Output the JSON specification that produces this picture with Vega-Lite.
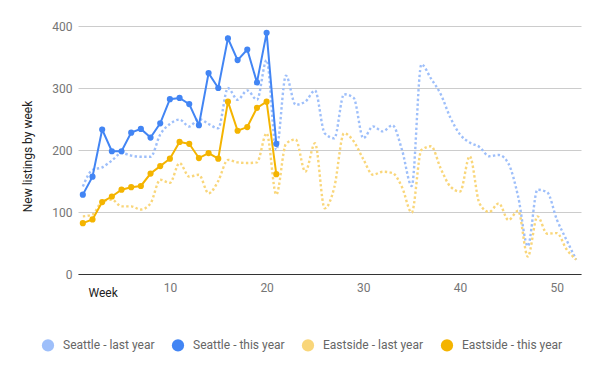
{
  "$schema": "https://vega.github.io/schema/vega-lite/v6.json",
  "autosize": "none",
  "width": 503,
  "height": 248,
  "padding": {"left": 78, "top": 26, "right": 19, "bottom": 97},
  "config": {
    "font": "Roboto",
    "view": {"stroke": null},
    "axis": {"labelFont": "Roboto", "titleFont": "Roboto", "labelFontSize": 12, "titleFontSize": 12, "labelColor": "#757575", "titleColor": "#222222", "titleFontWeight": "normal", "ticks": false}
  },
  "data": {"values": [
      {"week": 1, "series": "Seattle - last year", "value": 141},
      {"week": 2, "series": "Seattle - last year", "value": 168},
      {"week": 3, "series": "Seattle - last year", "value": 172},
      {"week": 4, "series": "Seattle - last year", "value": 183},
      {"week": 5, "series": "Seattle - last year", "value": 195},
      {"week": 6, "series": "Seattle - last year", "value": 191},
      {"week": 7, "series": "Seattle - last year", "value": 189},
      {"week": 8, "series": "Seattle - last year", "value": 189},
      {"week": 9, "series": "Seattle - last year", "value": 225},
      {"week": 10, "series": "Seattle - last year", "value": 242},
      {"week": 11, "series": "Seattle - last year", "value": 249},
      {"week": 12, "series": "Seattle - last year", "value": 238},
      {"week": 13, "series": "Seattle - last year", "value": 250},
      {"week": 14, "series": "Seattle - last year", "value": 242},
      {"week": 15, "series": "Seattle - last year", "value": 235},
      {"week": 16, "series": "Seattle - last year", "value": 300},
      {"week": 17, "series": "Seattle - last year", "value": 281},
      {"week": 18, "series": "Seattle - last year", "value": 296},
      {"week": 19, "series": "Seattle - last year", "value": 281},
      {"week": 20, "series": "Seattle - last year", "value": 345},
      {"week": 21, "series": "Seattle - last year", "value": 200},
      {"week": 22, "series": "Seattle - last year", "value": 320},
      {"week": 23, "series": "Seattle - last year", "value": 273},
      {"week": 24, "series": "Seattle - last year", "value": 278},
      {"week": 25, "series": "Seattle - last year", "value": 296},
      {"week": 26, "series": "Seattle - last year", "value": 227},
      {"week": 27, "series": "Seattle - last year", "value": 219},
      {"week": 28, "series": "Seattle - last year", "value": 290},
      {"week": 29, "series": "Seattle - last year", "value": 284},
      {"week": 30, "series": "Seattle - last year", "value": 219},
      {"week": 31, "series": "Seattle - last year", "value": 238},
      {"week": 32, "series": "Seattle - last year", "value": 230},
      {"week": 33, "series": "Seattle - last year", "value": 240},
      {"week": 34, "series": "Seattle - last year", "value": 200},
      {"week": 35, "series": "Seattle - last year", "value": 142},
      {"week": 36, "series": "Seattle - last year", "value": 338},
      {"week": 37, "series": "Seattle - last year", "value": 315},
      {"week": 38, "series": "Seattle - last year", "value": 290},
      {"week": 39, "series": "Seattle - last year", "value": 252},
      {"week": 40, "series": "Seattle - last year", "value": 225},
      {"week": 41, "series": "Seattle - last year", "value": 212},
      {"week": 42, "series": "Seattle - last year", "value": 205},
      {"week": 43, "series": "Seattle - last year", "value": 190},
      {"week": 44, "series": "Seattle - last year", "value": 192},
      {"week": 45, "series": "Seattle - last year", "value": 178},
      {"week": 46, "series": "Seattle - last year", "value": 125},
      {"week": 47, "series": "Seattle - last year", "value": 45},
      {"week": 48, "series": "Seattle - last year", "value": 136},
      {"week": 49, "series": "Seattle - last year", "value": 132},
      {"week": 50, "series": "Seattle - last year", "value": 88},
      {"week": 51, "series": "Seattle - last year", "value": 55},
      {"week": 52, "series": "Seattle - last year", "value": 23},
      {"week": 1, "series": "Eastside - last year", "value": 93},
      {"week": 2, "series": "Eastside - last year", "value": 96},
      {"week": 3, "series": "Eastside - last year", "value": 117},
      {"week": 4, "series": "Eastside - last year", "value": 120},
      {"week": 5, "series": "Eastside - last year", "value": 109},
      {"week": 6, "series": "Eastside - last year", "value": 109},
      {"week": 7, "series": "Eastside - last year", "value": 104},
      {"week": 8, "series": "Eastside - last year", "value": 114},
      {"week": 9, "series": "Eastside - last year", "value": 152},
      {"week": 10, "series": "Eastside - last year", "value": 147},
      {"week": 11, "series": "Eastside - last year", "value": 179},
      {"week": 12, "series": "Eastside - last year", "value": 157},
      {"week": 13, "series": "Eastside - last year", "value": 160},
      {"week": 14, "series": "Eastside - last year", "value": 130},
      {"week": 15, "series": "Eastside - last year", "value": 150},
      {"week": 16, "series": "Eastside - last year", "value": 184},
      {"week": 17, "series": "Eastside - last year", "value": 180},
      {"week": 18, "series": "Eastside - last year", "value": 179},
      {"week": 19, "series": "Eastside - last year", "value": 180},
      {"week": 20, "series": "Eastside - last year", "value": 227},
      {"week": 21, "series": "Eastside - last year", "value": 128},
      {"week": 22, "series": "Eastside - last year", "value": 210},
      {"week": 23, "series": "Eastside - last year", "value": 217},
      {"week": 24, "series": "Eastside - last year", "value": 165},
      {"week": 25, "series": "Eastside - last year", "value": 211},
      {"week": 26, "series": "Eastside - last year", "value": 106},
      {"week": 27, "series": "Eastside - last year", "value": 140},
      {"week": 28, "series": "Eastside - last year", "value": 227},
      {"week": 29, "series": "Eastside - last year", "value": 214},
      {"week": 30, "series": "Eastside - last year", "value": 185},
      {"week": 31, "series": "Eastside - last year", "value": 160},
      {"week": 32, "series": "Eastside - last year", "value": 165},
      {"week": 33, "series": "Eastside - last year", "value": 163},
      {"week": 34, "series": "Eastside - last year", "value": 140},
      {"week": 35, "series": "Eastside - last year", "value": 99},
      {"week": 36, "series": "Eastside - last year", "value": 200},
      {"week": 37, "series": "Eastside - last year", "value": 206},
      {"week": 38, "series": "Eastside - last year", "value": 170},
      {"week": 39, "series": "Eastside - last year", "value": 141},
      {"week": 40, "series": "Eastside - last year", "value": 133},
      {"week": 41, "series": "Eastside - last year", "value": 190},
      {"week": 42, "series": "Eastside - last year", "value": 114},
      {"week": 43, "series": "Eastside - last year", "value": 100},
      {"week": 44, "series": "Eastside - last year", "value": 114},
      {"week": 45, "series": "Eastside - last year", "value": 87},
      {"week": 46, "series": "Eastside - last year", "value": 102},
      {"week": 47, "series": "Eastside - last year", "value": 28},
      {"week": 48, "series": "Eastside - last year", "value": 93},
      {"week": 49, "series": "Eastside - last year", "value": 65},
      {"week": 50, "series": "Eastside - last year", "value": 66},
      {"week": 51, "series": "Eastside - last year", "value": 40},
      {"week": 52, "series": "Eastside - last year", "value": 23},
      {"week": 1, "series": "Seattle - this year", "value": 128},
      {"week": 2, "series": "Seattle - this year", "value": 157},
      {"week": 3, "series": "Seattle - this year", "value": 233},
      {"week": 4, "series": "Seattle - this year", "value": 198},
      {"week": 5, "series": "Seattle - this year", "value": 198},
      {"week": 6, "series": "Seattle - this year", "value": 228},
      {"week": 7, "series": "Seattle - this year", "value": 234},
      {"week": 8, "series": "Seattle - this year", "value": 220},
      {"week": 9, "series": "Seattle - this year", "value": 243},
      {"week": 10, "series": "Seattle - this year", "value": 282},
      {"week": 11, "series": "Seattle - this year", "value": 284},
      {"week": 12, "series": "Seattle - this year", "value": 274},
      {"week": 13, "series": "Seattle - this year", "value": 240},
      {"week": 14, "series": "Seattle - this year", "value": 324},
      {"week": 15, "series": "Seattle - this year", "value": 300},
      {"week": 16, "series": "Seattle - this year", "value": 380},
      {"week": 17, "series": "Seattle - this year", "value": 345},
      {"week": 18, "series": "Seattle - this year", "value": 362},
      {"week": 19, "series": "Seattle - this year", "value": 309},
      {"week": 20, "series": "Seattle - this year", "value": 389},
      {"week": 21, "series": "Seattle - this year", "value": 210},
      {"week": 1, "series": "Eastside - this year", "value": 82},
      {"week": 2, "series": "Eastside - this year", "value": 88},
      {"week": 3, "series": "Eastside - this year", "value": 116},
      {"week": 4, "series": "Eastside - this year", "value": 125},
      {"week": 5, "series": "Eastside - this year", "value": 136},
      {"week": 6, "series": "Eastside - this year", "value": 140},
      {"week": 7, "series": "Eastside - this year", "value": 142},
      {"week": 8, "series": "Eastside - this year", "value": 162},
      {"week": 9, "series": "Eastside - this year", "value": 174},
      {"week": 10, "series": "Eastside - this year", "value": 186},
      {"week": 11, "series": "Eastside - this year", "value": 213},
      {"week": 12, "series": "Eastside - this year", "value": 210},
      {"week": 13, "series": "Eastside - this year", "value": 187},
      {"week": 14, "series": "Eastside - this year", "value": 195},
      {"week": 15, "series": "Eastside - this year", "value": 186},
      {"week": 16, "series": "Eastside - this year", "value": 278},
      {"week": 17, "series": "Eastside - this year", "value": 231},
      {"week": 18, "series": "Eastside - this year", "value": 237},
      {"week": 19, "series": "Eastside - this year", "value": 268},
      {"week": 20, "series": "Eastside - this year", "value": 278},
      {"week": 21, "series": "Eastside - this year", "value": 161}
  ]},
  "encoding": {
    "x": {
      "field": "week", "type": "quantitative",
      "scale": {"domain": [0.5, 52.5], "nice": false, "zero": false},
      "axis": {
        "title": "Week", "values": [10, 20, 30, 40, 50], "grid": false,
        "domainColor": "#333333", "domainWidth": 1, "labelPadding": 8,
        "titleAnchor": "start", "titleAlign": "left", "titleBaseline": "top",
        "titleX": 10, "titleY": 13
      }
    },
    "y": {
      "field": "value", "type": "quantitative",
      "scale": {"domain": [0, 400], "nice": false},
      "axis": {
        "title": "New listings by week", "values": [0, 100, 200, 300, 400],
        "domain": false, "gridColor": "#cccccc", "labelPadding": 6,
        "titleAngle": -90, "titleAlign": "center", "titleBaseline": "middle",
        "titleX": -51, "titleY": 130
      }
    }
  },
  "layer": [
    {
      "transform": [{"filter": "indexof(datum.series, 'last year') >= 0"}],
      "mark": {"type": "line", "interpolate": "monotone", "strokeWidth": 2.4, "strokeDash": [2.4, 2.4], "strokeCap": "butt"},
      "encoding": {
        "stroke": {
          "field": "series", "type": "nominal",
          "sort": ["Seattle - last year", "Seattle - this year", "Eastside - last year", "Eastside - this year"],
          "scale": {"range": ["#9ebffa", "#4285f4", "#f9d67a", "#f4b400"]},
          "legend": null
        }
      }
    },
    {
      "transform": [{"filter": "indexof(datum.series, 'this year') >= 0"}],
      "mark": {"type": "line", "strokeWidth": 2},
      "encoding": {
        "stroke": {
          "field": "series", "type": "nominal",
          "sort": ["Seattle - last year", "Seattle - this year", "Eastside - last year", "Eastside - this year"],
          "scale": {"range": ["#9ebffa", "#4285f4", "#f9d67a", "#f4b400"]},
          "legend": null
        }
      }
    },
    {
      "mark": {"type": "point", "filled": true, "opacity": 1},
      "encoding": {
        "color": {
          "field": "series", "type": "nominal",
          "sort": ["Seattle - last year", "Seattle - this year", "Eastside - last year", "Eastside - this year"],
          "scale": {"range": ["#9ebffa", "#4285f4", "#f9d67a", "#f4b400"]},
          "legend": {
            "title": null, "orient": "none", "direction": "horizontal",
            "legendX": -37, "legendY": 312,
            "labelFontSize": 12, "labelColor": "#666666", "labelOffset": 8,
            "columnPadding": 16, "symbolSize": 150, "labelFont": "Roboto",
            "encode": {
              "symbols": {
                "shape": {"signal": "indexof(datum.value, 'last year') >= 0 ? 'M-1,-0.33H-0.33V0.33H-1Z M0.33,-0.33H1V0.33H0.33Z' : 'circle'"},
                "update": {
                  "shape": {"signal": "indexof(datum.value, 'last year') >= 0 ? 'M-1,-0.33H-0.33V0.33H-1Z M0.33,-0.33H1V0.33H0.33Z' : 'circle'"}
                }
              }
            }
          }
        },
        "size": {"condition": {"test": "indexof(datum.series, 'last year') >= 0", "value": 0}, "value": 38}
      }
    }
  ]
}
